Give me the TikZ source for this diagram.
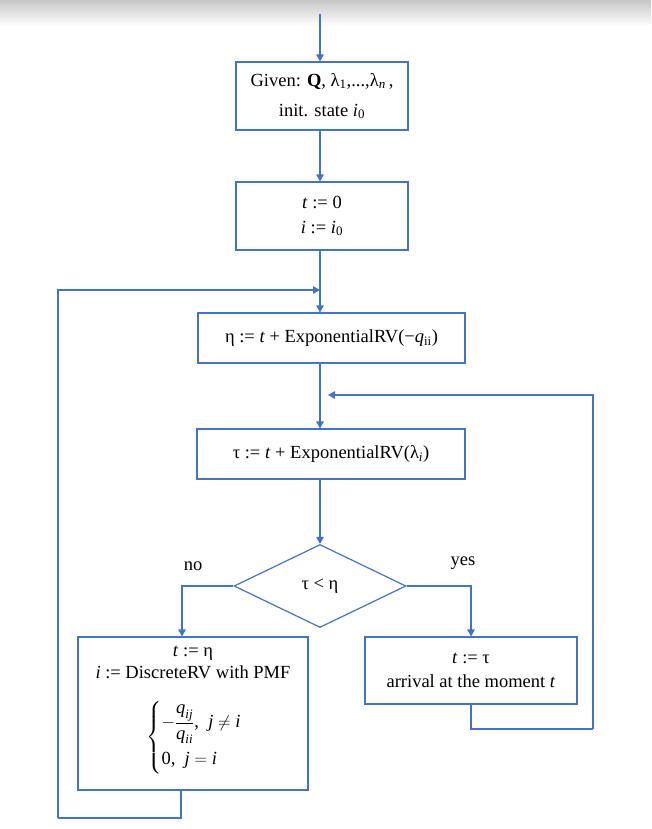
\documentclass[tikz,border=0pt]{standalone}
\usepackage{amsmath}
\usepackage{fontspec}
\setmainfont{Liberation Serif}
\usetikzlibrary{arrows.meta,shapes.geometric}
\definecolor{flow}{HTML}{4472C4}
\begin{document}
\begin{tikzpicture}[x=1pt,y=-1pt,
  every node/.style={font=\fontsize{18.5}{21}\selectfont, text=black},
  box/.style={draw=flow, line width=1.1pt, rectangle, inner sep=0pt, align=center},
  cond/.style={draw=flow, line width=1.2pt, diamond, inner sep=0pt, minimum width=172pt, minimum height=83pt},
  link/.style={draw=flow, line width=1.1pt},
  arr/.style={link, -{Triangle[length=7pt,width=7.5pt]}},
  lbl/.style={inner sep=0pt},
  txt/.style={inner sep=0pt, anchor=base}]
\useasboundingbox (0,0) rectangle (651,829);
\shade[top color=black!22, bottom color=white] (0,0) rectangle (651,26);

\coordinate (cx) at (320,0);
\coordinate (top) at (320,14);

\node[box, minimum width=172pt, minimum height=68pt] (b1) at (322,96)
  {Given: \textbf{Q}, λ\textsubscript{1},...,λ\textsubscript{\textit{n}}\,,\\[9pt] init. state \textit{i}\textsubscript{0}};
\node[box, minimum width=172pt, minimum height=68pt] (b2) at (322,216)
  {\textit{t} := 0\\[4pt] \textit{i} := \textit{i}\textsubscript{0}};
\node[box, minimum width=267pt, minimum height=50pt] (b3) at (331.5,338)
  {η := \textit{t} + ExponentialRV(−\textit{q}\textsubscript{ii})};
\node[box, minimum width=268pt, minimum height=50pt] (b4) at (331,454)
  {τ := \textit{t} + ExponentialRV(λ\textsubscript{\textit{i}})};
\node[cond] (d) at (320,586) {τ < η};
\node[lbl] (no) at (193,566) {no};
\node[lbl] (yes) at (463,563) {yes};

\node[box, minimum width=230pt, minimum height=153pt] (bl) at (193,713.5) {};
\node[txt] (bl1) at (193,656) {\textit{t} := η};
\node[txt] (bl2) at (193,678) {\textit{i} := DiscreteRV with PMF};
\node[inner sep=0pt] (bl3) at (194,737.5)
  {$\left\{\begin{array}{@{}l@{}}
     {-}\dfrac{\textit{q}_{\textit{ij}}\rule[-3pt]{0pt}{12pt}}{\textit{q}_{\textit{ii}}\rule{0pt}{13pt}}\text{,}\ \ \textit{j} \neq \textit{i}\rule{0pt}{26pt}\\[16pt]
     \text{0,}\ \ \textit{j} = \textit{i}\rule[-9pt]{0pt}{9pt}
   \end{array}\right.$};

\node[box, minimum width=212pt, minimum height=67pt] (br) at (471,670.5)
  {\textit{t} := τ\\[3pt] arrival at the moment \textit{t}};

\coordinate (lp) at (58,818);
\coordinate (lp2) at (58,290);
\coordinate (rp) at (593,729);
\coordinate (rp2) at (593,395);
\coordinate (rtip) at (328,395);

\draw[arr] (top) -- (top |- b1.north);
\draw[arr] (b1.south -| cx) -- (b2.north -| cx);
\draw[arr] (b2.south -| cx) -- (b3.north -| cx);
\draw[arr] (b3.south -| cx) -- (b4.north -| cx);
\draw[arr] (b4.south -| cx) -- (d.north);
\draw[arr] (d.west) -| ([xshift=-11pt]bl.north);
\draw[arr] (d.east) -| (br.north);
\draw[link] ([xshift=-12pt]bl.south) |- (lp);
\draw[arr] (lp) -- (lp2) -- (lp2 -| cx);
\draw[link] (br.south) |- (rp);
\draw[arr] (rp) -- (rp2) -- (rtip);
\end{tikzpicture}
\end{document}
